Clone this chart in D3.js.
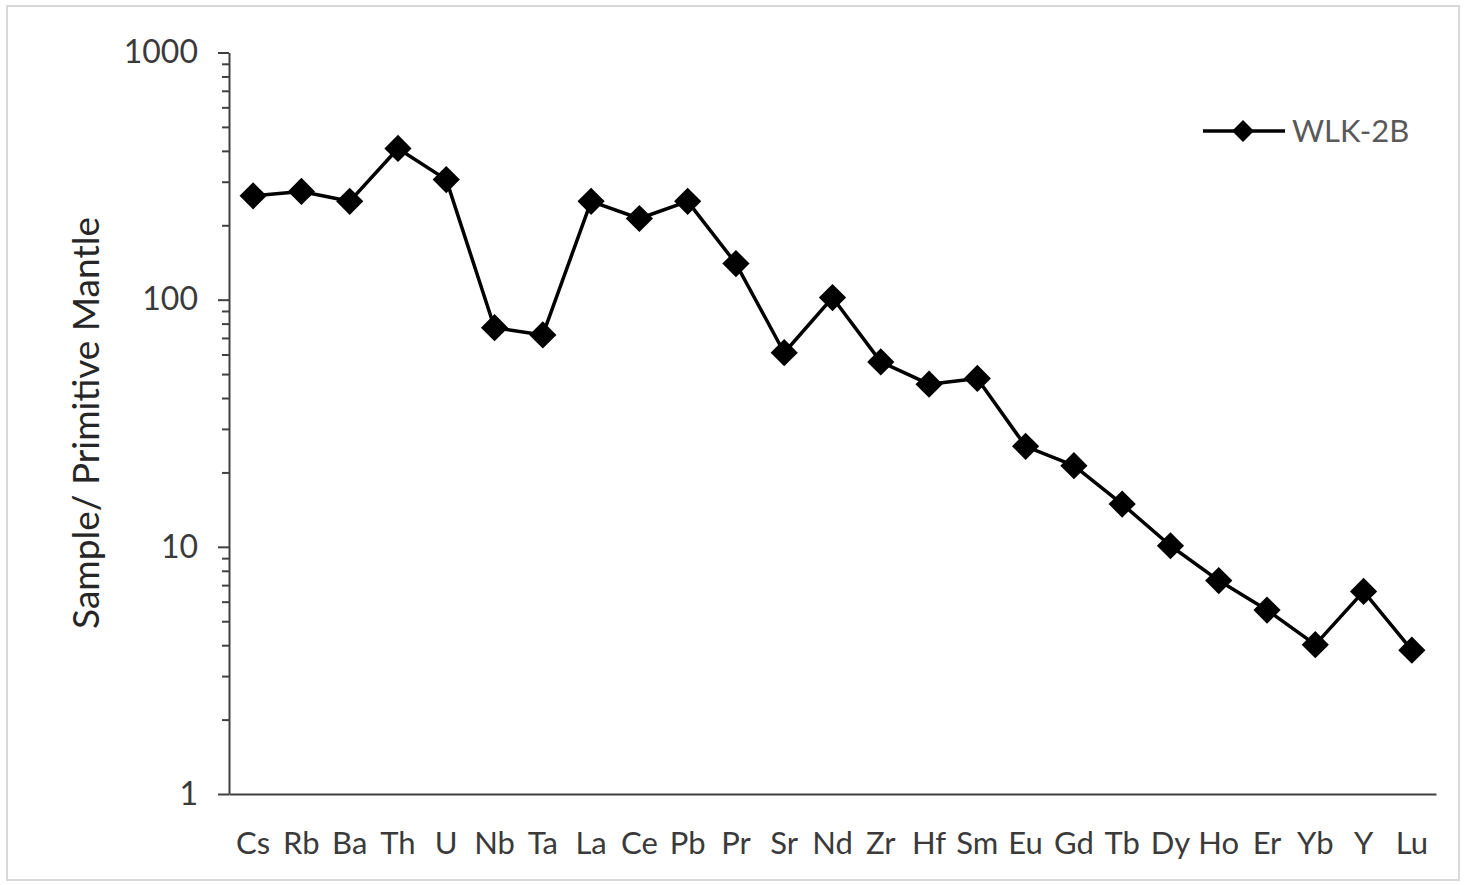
<!DOCTYPE html>
<html>
<head>
<meta charset="utf-8">
<script src="https://cdn.jsdelivr.net/npm/d3@7"></script>
<style>
  html, body { margin: 0; padding: 0; background: #fff; }
  svg { display: block; }
  text { font-family: Lato, "Open Sans", sans-serif; }
</style>
</head>
<body>
<svg id="chart" width="1466" height="885"></svg>
<script>
// Primitive-mantle normalised trace elements, sample WLK-2B
const elements = ["Cs","Rb","Ba","Th","U","Nb","Ta","La","Ce","Pb","Pr","Sr","Nd","Zr","Hf","Sm","Eu","Gd","Tb","Dy","Ho","Er","Yb","Y","Lu"];
const wlk2b = [263, 274, 250, 409, 306, 77, 72, 250, 213, 250, 140, 61, 102, 56, 45.5, 48, 25.5, 21.3, 14.9, 10.1, 7.3, 5.55, 4.02, 6.6, 3.82];
const yTicks = [1, 10, 100, 1000];
const seriesName = "WLK-2B";

const svg = d3.select("#chart");
const W = 1466, H = 885;
const plotLeft = 229, plotRight = 1436, plotTop = 52.5, plotBottom = 794;

// outer frame
svg.append("rect")
  .attr("x", 7).attr("y", 6).attr("width", W - 14).attr("height", H - 11)
  .attr("fill", "#fff").attr("stroke", "#d9d9d9").attr("stroke-width", 2);

const x = d3.scaleBand().domain(elements).range([plotLeft, plotRight]);
const y = d3.scaleLog().domain([1, 1000]).range([plotBottom, plotTop]);

const axisColor = "#404040";

// y axis: major ticks at decades, minor ticks between
const minor = [];
for (let d = 1; d < 1000; d *= 10) for (let k = 2; k <= 9; k++) minor.push(d * k);

const yMinor = svg.append("g").attr("transform", `translate(${plotLeft},0)`)
  .call(d3.axisLeft(y).tickValues(minor).tickSize(7).tickFormat(""));
yMinor.select(".domain").remove();
yMinor.selectAll("line").attr("stroke", axisColor).attr("stroke-width", 2);

const yAxis = svg.append("g").attr("transform", `translate(${plotLeft},0)`)
  .call(d3.axisLeft(y).tickValues(yTicks).tickSize(11).tickSizeOuter(0).tickPadding(20).tickFormat(d3.format("d")));
yAxis.select(".domain").attr("stroke", axisColor).attr("stroke-width", 2);
yAxis.selectAll("line").attr("stroke", axisColor).attr("stroke-width", 2);
yAxis.selectAll("text").attr("font-size", 32).attr("fill", "#3a3a3a")
  .attr("font-family", "Lato, 'Open Sans', sans-serif");

// x axis
const xAxis = svg.append("g").attr("transform", `translate(0,${plotBottom})`)
  .call(d3.axisBottom(x).tickSize(0).tickSizeOuter(0).tickPadding(38));
xAxis.select(".domain").attr("stroke", axisColor).attr("stroke-width", 2);
xAxis.selectAll("text").attr("font-size", 31).attr("fill", "#3a3a3a")
  .attr("font-family", "Lato, 'Open Sans', sans-serif");

// y axis title
svg.append("text")
  .attr("transform", "translate(99,423) rotate(-90)")
  .attr("text-anchor", "middle")
  .attr("font-size", 37).attr("fill", "#262626")
  .text("Sample/ Primitive Mantle");

// series line and markers
const cx = d => x(d) + x.bandwidth() / 2;
const pts = elements.map((e, i) => [cx(e), y(wlk2b[i])]);

svg.append("path")
  .attr("d", d3.line()(pts))
  .attr("fill", "none").attr("stroke", "#000").attr("stroke-width", 3.5)
  .attr("stroke-linejoin", "round");

const diamond = d3.symbol(d3.symbolSquare, 370);
svg.append("g").selectAll("path").data(pts).join("path")
  .attr("d", diamond)
  .attr("transform", d => `translate(${d[0]},${d[1]}) rotate(45)`)
  .attr("fill", "#000");

// legend
const lg = svg.append("g").attr("transform", "translate(1203,131)");
lg.append("line").attr("x1", 0).attr("x2", 82).attr("y1", 0).attr("y2", 0)
  .attr("stroke", "#000").attr("stroke-width", 3.5);
lg.append("path").attr("d", d3.symbol(d3.symbolSquare, 240))
  .attr("transform", "translate(40,0) rotate(45)").attr("fill", "#000");
lg.append("text").attr("x", 89).attr("y", 11)
  .attr("font-size", 31).attr("fill", "#595959")
  .text(seriesName);
</script>
</body>
</html>
